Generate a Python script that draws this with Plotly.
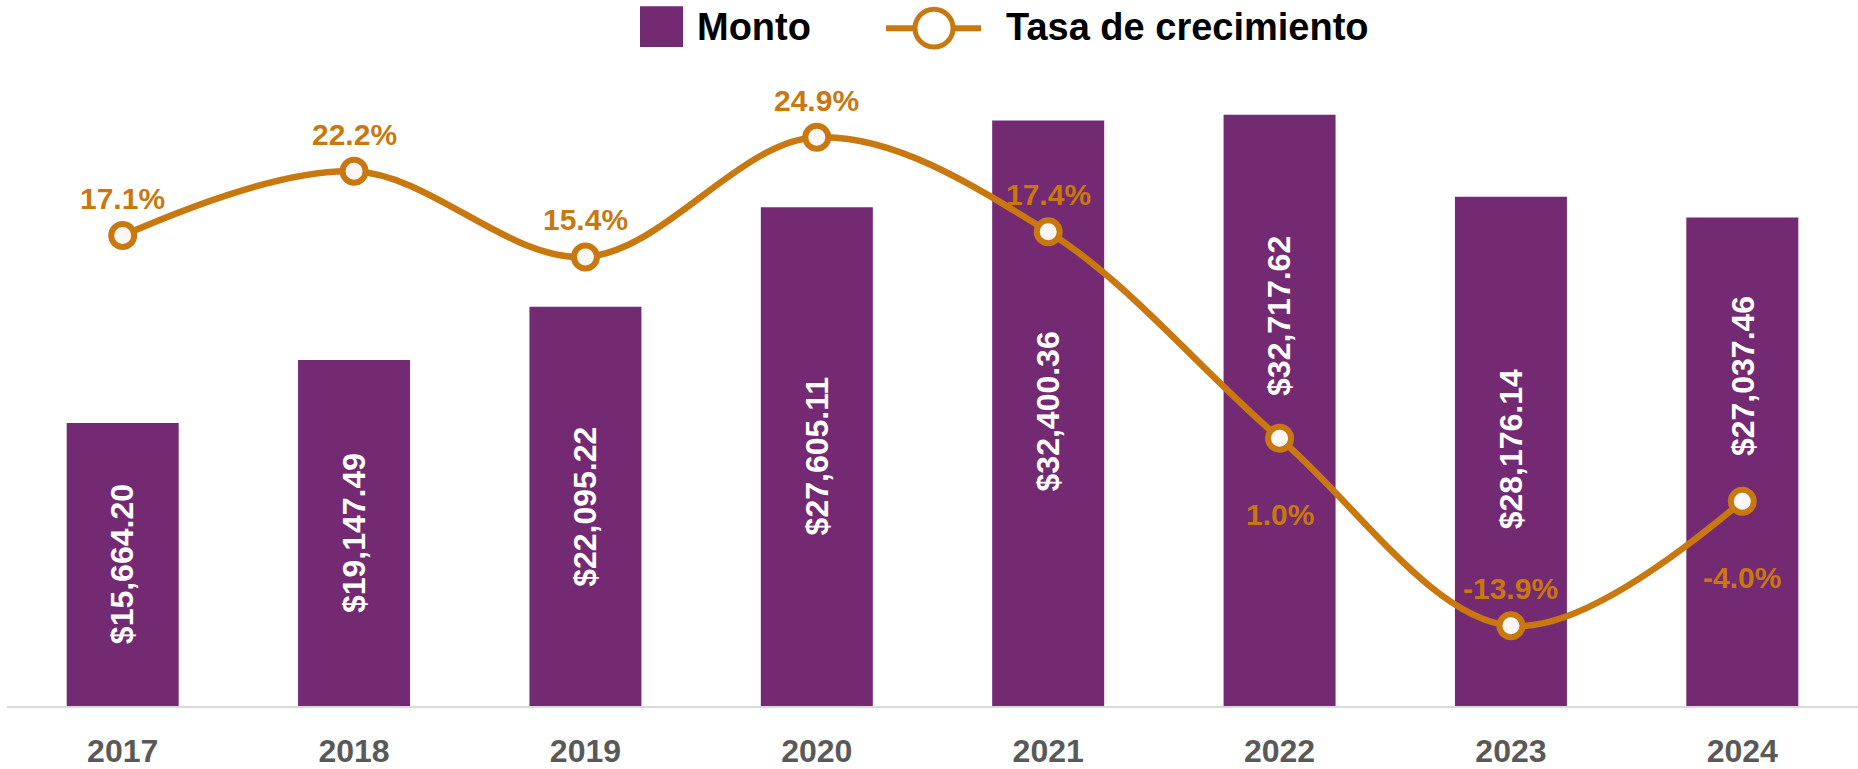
import plotly.graph_objects as go

years = ["2017", "2018", "2019", "2020", "2021", "2022", "2023", "2024"]
monto = [15664.20, 19147.49, 22095.22, 27605.11, 32400.36, 32717.62, 28176.14, 27037.46]
tasa = [17.1, 22.2, 15.4, 24.9, 17.4, 1.0, -13.9, -4.0]
tasa_label_pos = ["above", "above", "above", "above", "above", "below", "above", "below"]

# layout-only: vertical pixel nudges of the amount labels (moved up to clear the line)
monto_label_shift = [0, 0, 0, 0, 2, 94, 2, 86]

PURPLE = "#732A73"
ORANGE = "#C9780F"
FONT = "Arial, Liberation Sans, sans-serif"

W, H = 1858, 769
ML, MR, MT, MB = 7, 0, 60, 60
PW, PH = W - ML - MR, H - MT - MB

fig = go.Figure()
fig.add_trace(go.Bar(
    x=years, y=monto, name="Monto", marker=dict(color=PURPLE, line=dict(width=0)),
    hoverinfo="x+y", showlegend=False,
))
fig.add_trace(go.Scatter(
    x=years, y=tasa, name="Tasa de crecimiento", yaxis="y2", mode="lines+markers",
    line=dict(color=ORANGE, width=6.5, shape="spline", smoothing=1.0),
    marker=dict(size=23, color="#FAF7F5", line=dict(color=ORANGE, width=6)),
    cliponaxis=False, showlegend=False,
))

# amount labels inside the bars (rotated), placed at mid-bar
for i, (v, s) in enumerate(zip(monto, monto_label_shift)):
    fig.add_annotation(
        x=i, y=v / 2, xref="x", yref="y", text=f"${v:,.2f}", showarrow=False,
        textangle=-90, yshift=s,
        font=dict(color="white", size=32, family=FONT, weight="bold"),
    )

# growth-rate labels
for i, (v, pos) in enumerate(zip(tasa, tasa_label_pos)):
    fig.add_annotation(
        x=i, y=v, xref="x", yref="y2", text=f"{v:.1f}%", showarrow=False,
        yshift=37 if pos == "above" else -76,
        font=dict(color=ORANGE, size=30, family=FONT, weight="bold"),
    )

# custom legend (reference pixel positions converted to paper coords)
def px(xp):
    return (xp - ML) / PW

def py(yp):
    return (H - MB - yp) / PH

fig.add_shape(type="rect", xref="paper", yref="paper",
              x0=px(640), x1=px(683), y0=py(47), y1=py(6),
              fillcolor=PURPLE, line=dict(width=0))
fig.add_annotation(xref="paper", yref="paper", x=px(695), y=py(27),
                   xanchor="left", yanchor="middle", text="Monto", showarrow=False,
                   font=dict(color="black", size=38, family=FONT, weight="bold"))
fig.add_shape(type="line", xref="paper", yref="paper",
              x0=px(886), x1=px(981), y0=py(28), y1=py(28),
              line=dict(color=ORANGE, width=6))
fig.add_shape(type="circle", xref="paper", yref="paper",
              x0=px(915), x1=px(953), y0=py(47), y1=py(9),
              fillcolor="white", line=dict(color=ORANGE, width=5))
fig.add_annotation(xref="paper", yref="paper", x=px(1004), y=py(27),
                   xanchor="left", yanchor="middle", text="Tasa de crecimiento", showarrow=False,
                   font=dict(color="black", size=38, family=FONT, weight="bold"))

fig.update_layout(
    width=W, height=H,
    margin=dict(l=ML, r=MR, t=MT, b=MB),
    paper_bgcolor="white", plot_bgcolor="white",
    bargap=0.516,
    showlegend=False,
    font=dict(family=FONT),
    xaxis=dict(
        type="category", range=[-0.5, 7.5], showgrid=False, zeroline=False,
        showline=True, linecolor="#D9D9D9", linewidth=2, ticks="",
        tickfont=dict(size=32, color="#595959", family=FONT, weight="bold"),
        ticklabelstandoff=16,
    ),
    yaxis=dict(range=[0, 35750], visible=False, showgrid=False, zeroline=False),
    yaxis2=dict(range=[-20.27, 31.04], overlaying="y", side="right",
                visible=False, showgrid=False, zeroline=False),
)

fig.write_html(
    "out.html",
    config={"displayModeBar": False},
    post_script="document.body.style.margin='0';document.body.style.overflow='hidden';",
)
